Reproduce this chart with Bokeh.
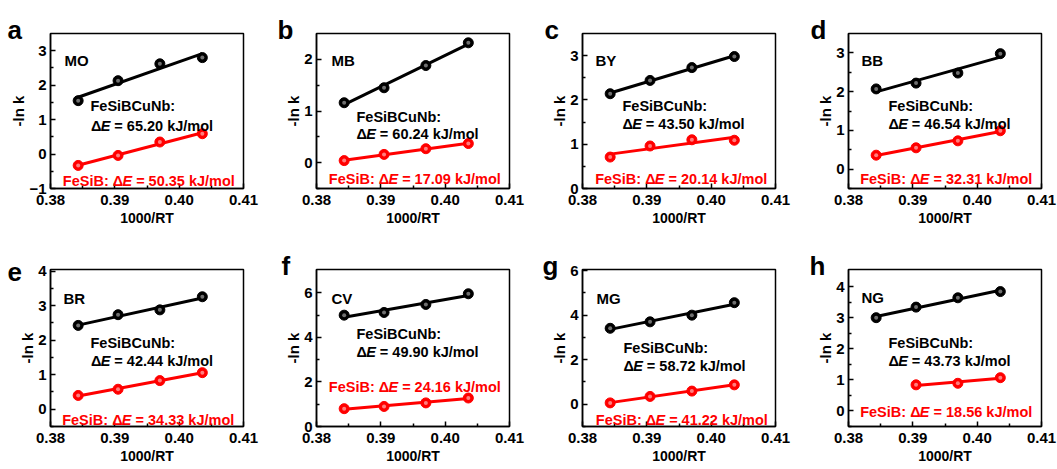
import numpy as np
from bokeh.plotting import figure
from bokeh.layouts import column, row
from bokeh.models import Label, FixedTicker, PrintfTickFormatter, Range1d, Title
from bokeh.embed import file_html
from bokeh.resources import INLINE

# ---------------- data ----------------
inv_RT = [0.3843, 0.3905, 0.3970, 0.4036]
inv_RT_NG_fesib = [0.3905, 0.3970, 0.4036]

letters = ["a", "b", "c", "d", "e", "f", "g", "h"]
dyes = ["MO", "MB", "BY", "BB", "BR", "CV", "MG", "NG"]
E_cunb = ["65.20", "60.24", "43.50", "46.54", "42.44", "49.90", "58.72", "43.73"]
E_fesib = ["50.35", "17.09", "20.14", "32.31", "34.33", "24.16", "41.22", "18.56"]

lnk_cunb_MO = [1.55, 2.13, 2.62, 2.80]
lnk_fesib_MO = [-0.33, -0.04, 0.35, 0.59]
lnk_cunb_MB = [1.16, 1.45, 1.88, 2.32]
lnk_fesib_MB = [0.04, 0.16, 0.27, 0.37]
lnk_cunb_BY = [2.14, 2.44, 2.73, 2.98]
lnk_fesib_BY = [0.71, 0.96, 1.10, 1.09]
lnk_cunb_BB = [2.07, 2.22, 2.48, 2.98]
lnk_fesib_BB = [0.36, 0.55, 0.73, 0.99]
lnk_cunb_BR = [2.43, 2.74, 2.88, 3.26]
lnk_fesib_BR = [0.40, 0.58, 0.83, 1.06]
lnk_cunb_CV = [5.00, 5.12, 5.48, 5.96]
lnk_fesib_CV = [0.80, 0.90, 1.06, 1.28]
lnk_cunb_MG = [3.41, 3.70, 4.00, 4.56]
lnk_fesib_MG = [0.06, 0.35, 0.59, 0.87]
lnk_cunb_NG = [3.00, 3.34, 3.64, 3.84]
lnk_fesib_NG = [0.84, 0.89, 1.07]

cunb_series = [lnk_cunb_MO, lnk_cunb_MB, lnk_cunb_BY, lnk_cunb_BB,
               lnk_cunb_BR, lnk_cunb_CV, lnk_cunb_MG, lnk_cunb_NG]
fesib_series = [lnk_fesib_MO, lnk_fesib_MB, lnk_fesib_BY, lnk_fesib_BB,
                lnk_fesib_BR, lnk_fesib_CV, lnk_fesib_MG, lnk_fesib_NG]
fesib_x = [inv_RT] * 7 + [inv_RT_NG_fesib]

y_ranges = [(-1, 3.5), (-0.5, 2.5), (0, 3.5), (-0.5, 3.5),
            (-0.5, 4.05), (0, 7.05), (-1, 6.05), (-0.5, 4.55)]
y_ticks = [[-1, 0, 1, 2, 3], [0, 1, 2], [0, 1, 2, 3], [0, 1, 2, 3],
           [0, 1, 2, 3, 4], [0, 2, 4, 6], [0, 2, 4, 6], [0, 1, 2, 3, 4]]
y_minor = [[-0.5, 0.5, 1.5, 2.5], [-0.5, 0.5, 1.5], [0.5, 1.5, 2.5], [-0.5, 0.5, 1.5, 2.5],
           [-0.5, 0.5, 1.5, 2.5, 3.5], [1, 3, 5], [-1, 1, 3, 5], [-0.5, 0.5, 1.5, 2.5, 3.5]]
x_ticks = [0.38, 0.39, 0.40, 0.41]
x_minor = [0.385, 0.395, 0.405]

# ---------------- style / layout ----------------
FONT = "Liberation Sans"
RED = "#ff0000"
ADV = {' ': .278, '-': .333, '.': .278, '/': .278, ':': .333, '=': .584,
       'B': .722, 'C': .722, 'E': .667, 'F': .611, 'J': .556, 'N': .722, 'S': .667,
       'b': .611, 'e': .556, 'i': .278, 'k': .556, 'l': .278, 'm': .889, 'n': .611,
       'o': .611, 'u': .611, '\u0394': .667}


def tw(s, px):
    return sum(ADV.get(c, 0.556) for c in s) * px


# text placement inside frame: (dx from frame left, baseline distance below frame top)
name_pos = [(14, 27), (15, 27), (13, 27), (13, 27), (13, 29), (15, 29), (14, 29), (13, 28)]
cunb_pos = [(40, 72), (40, 83), (40, 72), (40, 72), (40, 73), (40, 64), (41, 78), (40, 73)]
cunbE_pos = [(40.5, 92), (40, 100), (40, 90), (40, 90), (40.5, 91), (40, 82), (41, 96), (40, 91)]
fesib_pos = [(12.3, 147), (12.3, 145), (12.7, 145), (11.7, 145), (11.7, 150), (12.3, 117), (13.3, 150), (11.7, 142)]
letter_dx = [-38, -34, -33, -33, -38, -30, -35, -34]

widths = [266, 266, 266, 259]
TXT = 14.5


def add_text(p, fh, dx, dtop, text, size, color="black", style="bold"):
    p.add_layout(Label(x=dx, y=fh - dtop, x_units="screen", y_units="screen",
                       text=text, text_font=FONT, text_font_size=f"{size}px",
                       text_font_style=style, text_color=color,
                       text_align="left", text_baseline="alphabetic"))


def make_panel(i):
    top = i < 4
    H = 235 if top else 234
    bt = 33 if top else 34
    FH = 155 if top else 157
    bb = H - bt - FH
    W = widths[i % 4]
    br = W - 50 - 193
    p = figure(width=W, height=H, x_range=Range1d(0.38, 0.41),
               y_range=Range1d(*y_ranges[i]), min_border_left=50,
               min_border_right=br, min_border_top=bt, min_border_bottom=bb,
               toolbar_location=None, output_backend="svg", title=None)
    p.xgrid.visible = False
    p.ygrid.visible = False
    p.outline_line_color = "black"
    p.outline_line_width = 1.5

    for ax in (p.xaxis[0], p.yaxis[0]):
        ax.axis_line_width = 1.5
        ax.major_tick_in = 5
        ax.major_tick_out = 0
        ax.minor_tick_in = 3
        ax.minor_tick_out = 0
        ax.major_tick_line_width = 1.5
        ax.minor_tick_line_width = 1.5
        ax.major_label_text_font = FONT
        ax.major_label_text_font_style = "bold"
        ax.major_label_text_font_size = "15px"
        ax.major_label_text_color = "black"

    xa = p.xaxis[0]
    ya = p.yaxis[0]
    xa.ticker = FixedTicker(ticks=x_ticks, minor_ticks=x_minor)
    xa.formatter = PrintfTickFormatter(format="%.2f")
    ya.ticker = FixedTicker(ticks=y_ticks[i], minor_ticks=y_minor[i])
    xa.major_label_standoff = 6
    ya.major_label_standoff = 4

    # axis titles as titles in the side panels
    p.add_layout(Title(text="1000/RT", text_font=FONT, text_font_size="14px",
                       text_font_style="bold", text_color="black", align="center",
                       standoff=0), "below")
    p.add_layout(Title(text="-ln k", text_font=FONT, text_font_size="15px",
                       text_font_style="bold", text_color="black", align="center",
                       offset=13, standoff=0), "left")
    # panel letter
    p.add_layout(Title(text=letters[i], text_font=FONT, text_font_size="26px",
                       text_font_style="bold", text_color="black", align="left",
                       offset=letter_dx[i] - 5, standoff=-22), "above")

    # series + linear fits
    for xs, ys, col, hl in ((inv_RT, cunb_series[i], "black", "#8c8c8c"),
                            (fesib_x[i], fesib_series[i], RED, "#ff9d9d")):
        coef = np.polyfit(xs, ys, 1)
        ends = [xs[0], xs[-1]]
        p.line(ends, list(np.polyval(coef, ends)), line_width=3, line_color=col)
        p.scatter(xs, ys, size=10, fill_color=col, line_color=col, line_width=1)
        p.scatter(xs, ys, size=4, fill_color=hl, line_color=None, fill_alpha=0.8)

    nx, ny = name_pos[i]
    add_text(p, FH, nx, ny, dyes[i], 15)
    cx, cy = cunb_pos[i]
    add_text(p, FH, cx, cy, "FeSiBCuNb:", TXT)
    ex, ey = cunbE_pos[i]
    add_text(p, FH, ex, ey, "\u0394", TXT)
    add_text(p, FH, ex + tw("\u0394", TXT), ey, "E", TXT, style="bold italic")
    add_text(p, FH, ex + tw("\u0394E ", TXT), ey, "= " + E_cunb[i] + " kJ/mol", TXT)
    fx, fy = fesib_pos[i]
    head = "FeSiB: \u0394"
    add_text(p, FH, fx, fy, head, TXT, color=RED)
    add_text(p, FH, fx + tw(head, TXT), fy, "E", TXT, color=RED, style="bold italic")
    add_text(p, FH, fx + tw(head + "E ", TXT), fy, "= " + E_fesib[i] + " kJ/mol", TXT, color=RED)
    return p


panels = [make_panel(i) for i in range(8)]
layout = column(row(*panels[:4]), row(*panels[4:]))

open("out.html", "w").write(file_html(layout, INLINE))
